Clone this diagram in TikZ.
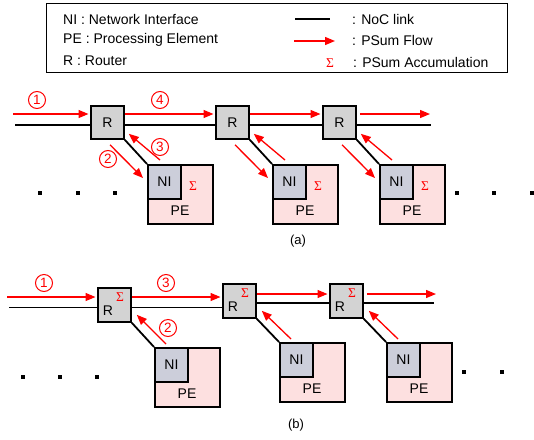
\documentclass[tikz,border=0pt]{standalone}
\usepackage{fontspec}
\setmainfont{Liberation Sans}
\newfontfamily\sigfont{Liberation Serif}
\usetikzlibrary{arrows.meta}
\definecolor{routergray}{RGB}{211,211,211}
\definecolor{nigray}{RGB}{204,206,218}
\definecolor{pepink}{RGB}{253,224,224}
\definecolor{flowred}{RGB}{255,0,0}
\begin{document}
\begin{tikzpicture}[x=1pt,y=-1pt,
  every node/.style={font=\fontsize{14}{16}\selectfont},
  box/.style={draw, line width=1.8pt, inner sep=0pt, anchor=north west},
  router/.style={box, fill=routergray, minimum width=33pt, minimum height=33pt},
  routerb/.style={box, fill=routergray, minimum width=33pt, minimum height=34pt},
  pe/.style={box, fill=pepink, minimum width=65pt, minimum height=59pt},
  ni/.style={box, fill=nigray, minimum width=33pt, minimum height=34pt},
  link/.style={line width=1.8pt},
  flow/.style={flowred, line width=1.3pt, -{Triangle[length=10pt,width=8pt]}},
  num/.style={circle, draw=flowred, text=flowred, line width=1pt, inner sep=0pt, minimum size=17pt, font=\fontsize{13.5}{14}\selectfont},
  sig/.style={text=flowred, font=\sigfont\fontsize{13.5}{14}\selectfont, inner sep=0pt},
  dot/.style={fill=black, minimum size=4.2pt, inner sep=0pt},
  txt/.style={anchor=west, inner sep=0pt}
]
\useasboundingbox (0,0) rectangle (534,439);

% ---------------- Legend ----------------
\node[draw, line width=0.8pt, anchor=north west, minimum width=461pt, minimum height=69pt, inner sep=0pt] (legend) at (46,3) {};
\node[txt] (lg1) at (63,19) {NI : Network Interface};
\node[txt] (lg2) at (63,40) {PE : Processing Element};
\node[txt] (lg3) at (63,61) {R : Router};
\coordinate (lgla) at (295,19);
\coordinate (lglb) at (330,19);
\draw[link] (lgla) -- (lglb);
\coordinate (lgfa) at (294,41);
\coordinate (lgfb) at (335,41);
\draw[flow] (lgfa) -- (lgfb);
\node[sig] (lgs) at (330,63) {Σ};
\node[txt] (lg4) at (352,19) {: NoC link};
\node[txt] (lg5) at (352,40) {: PSum Flow};
\node[txt] (lg6) at (353,62) {: PSum Accumulation};

% ---------------- Part (a) ----------------
\foreach \i/\x/\px in {1/90/147, 2/215/272, 3/322/379} {
  \node[router] (ra\i) at (\x,105) {R};
  \node[pe] (pa\i) at (\px,164) {};
  \node[ni] (nia\i) at (\px,164) {NI};
  \node[sig] (sa\i) at ([shift={(46,22)}]pa\i.north west) {Σ};
  \node (pela\i) at ([shift={(33,47)}]pa\i.north west) {PE};
  \draw[link] (ra\i.south east) -- (nia\i.north west);
  \draw[flow] ([shift={(20,5)}]ra\i.south west) -- ([shift={(-4,14)}]nia\i.north west);
  \draw[flow] ([shift={(13,-4)}]nia\i.north west) -- ([shift={(4,-6)}]ra\i.south east);
}
\coordinate (la0) at (15,125);
\coordinate (la4) at (431,125);
\draw[link] (la0) -- (ra1.west |- la0);
\draw[link] (ra1.east |- la0) -- (ra2.west |- la0);
\draw[link] (ra2.east |- la0) -- (ra3.west |- la0);
\draw[link] (ra3.east |- la0) -- (la4);

\coordinate (fa0) at (13,114);
\coordinate (fa4) at (430,114);
\draw[flow, shorten >=1.5pt] (fa0) -- (ra1.west |- fa0);
\draw[flow, shorten >=1.5pt] (ra1.east |- fa0) -- (ra2.west |- fa0);
\draw[flow, shorten >=1.5pt] (ra2.east |- fa0) -- (ra3.west |- fa0);
\draw[flow, shorten <=3pt] (ra3.east |- fa0) -- (fa4);

\node[num] (ca1) at (37,100) {1};
\node[num] (ca4) at (160,100) {4};
\node[num] (ca2) at (108,159) {2};
\node[num] (ca3) at (160,147) {3};

\foreach \j/\x in {1/40, 2/78, 3/115, 4/457, 5/494, 6/532} {
  \node[dot] (da\j) at (\x,193) {};
}
\node (capa) at (298,241) {\fontsize{13}{15}\selectfont(a)};

% ---------------- Part (b) ----------------
\foreach \i/\x/\y/\px/\py in {1/97/287/154/347, 2/222/283/279/342, 3/329/283/386/342} {
  \node[routerb] (rb\i) at (\x,\y) {};
  \node (rbl\i) at ([shift={(11,24)}]rb\i.north west) {R};
  \node[sig] (rbs\i) at ([shift={(23,10)}]rb\i.north west) {Σ};
  \node[pe] (pb\i) at (\px,\py) {};
  \node[ni] (nib\i) at (\px,\py) {NI};
  \node (pelb\i) at ([shift={(33,47)}]pb\i.north west) {PE};
  \draw[link] (rb\i.south east) -- (nib\i.north west);
  \draw[flow] ([shift={(12,-3)}]nib\i.north west) -- ([shift={(5,-8)}]rb\i.south east);
}
\coordinate (lb0) at (9,307.5);
\coordinate (lb2) at (434,303);
\draw[link] (lb0) -- (rb1.west |- lb0);
\draw[link] (rb1.east |- lb0) -- (rb2.west |- lb0);
\draw[link] (rb2.east |- lb2) -- (rb3.west |- lb2);
\draw[link] (rb3.east |- lb2) -- (lb2);

\coordinate (fb0) at (7,297);
\coordinate (fb2) at (436,294);
\draw[flow, shorten >=1.5pt] (fb0) -- (rb1.west |- fb0);
\draw[flow, shorten >=1.5pt] (rb1.east |- fb0) -- (rb2.west |- fb0);
\draw[flow, shorten >=1.5pt] (rb2.east |- fb2) -- (rb3.west |- fb2);
\draw[flow, shorten <=3pt] (rb3.east |- fb2) -- (fb2);

\node[num] (cb1) at (44,283) {1};
\node[num] (cb3) at (166,283) {3};
\node[num] (cb2) at (168,328) {2};

\foreach \j/\x/\y in {1/23/377, 2/60/377, 3/97/377, 4/464/372, 5/502/372} {
  \node[dot] (db\j) at (\x,\y) {};
}
\node (capb) at (296,425) {\fontsize{13}{15}\selectfont(b)};
\end{tikzpicture}
\end{document}
